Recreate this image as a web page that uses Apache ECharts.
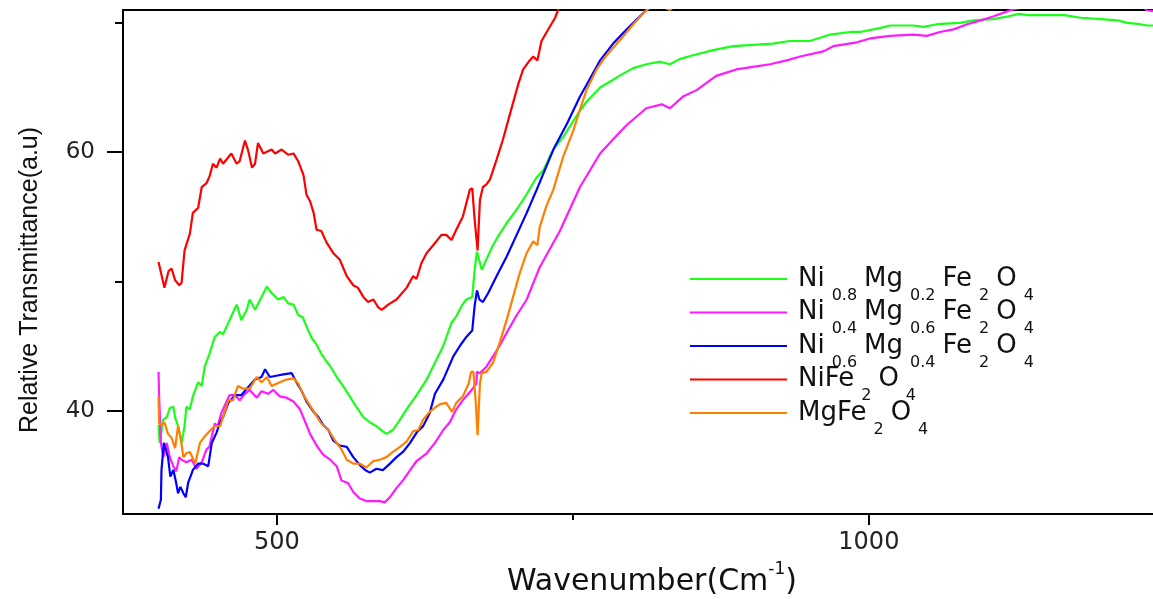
<!DOCTYPE html>
<html><head><meta charset="utf-8">
<script src="https://cdn.jsdelivr.net/npm/echarts@6/dist/echarts.min.js"></script>
<style>html,body{margin:0;padding:0;background:#fff}#c{width:1153px;height:599px}</style>
</head><body><div id="c"></div><script>
// Axis ranges and ticks
const xRange = [370, 1240];
const yRange = [32, 71];
const xMajorTicks = [500, 1000];
const xMinorTicks = [750];
const yMajorTicks = [40, 60];
const yMinorTicks = [50, 70];

const seriesNames = ['Ni0.8Mg0.2Fe2O4', 'Ni0.4Mg0.6Fe2O4', 'Ni0.6Mg0.4Fe2O4', 'NiFe2O4', 'MgFe2O4'];
const seriesColors = ['#1aff1a', '#ff1aff', '#0000ff', '#ff0000', '#ff8000'];
const legendRich = {
  'Ni0.8Mg0.2Fe2O4': '{f|Ni}{s|0.8}{m|Mg}{s|0.2}{m|Fe}{s|2}{m|O}{s|4}',
  'Ni0.4Mg0.6Fe2O4': '{f|Ni}{s|0.4}{m|Mg}{s|0.6}{m|Fe}{s|2}{m|O}{s|4}',
  'Ni0.6Mg0.4Fe2O4': '{f|Ni}{s|0.6}{m|Mg}{s|0.4}{m|Fe}{s|2}{m|O}{s|4}',
  'NiFe2O4': '{f|NiFe}{s|2}{m|O}{s|4}',
  'MgFe2O4': '{f|MgFe}{s|2}{m|O}{s|4}'
};

// [wavenumber, transmittance]
const ni08 = [[400,38.9],[401,37.5],[404,39.3],[407,39.5],[409.5,40.2],[412.5,40.3],[414,39.5],[416.5,38.8],[419.5,37.5],[422,38.8],[423.5,40.3],[426.5,40.1],[429,41.1],[433.5,42.2],[436.5,41.9],[439,43.4],[443,44.4],[447.5,45.7],[452,46.1],[454.5,45.9],[457.5,46.5],[461.5,47.3],[466,48.2],[470,47.0],[474.5,47.8],[477,48.6],[481.5,47.8],[487,48.8],[491.5,49.6],[495.5,49.1],[501,48.6],[505.5,48.8],[509.5,48.3],[514,48.2],[518,47.4],[522,47.2],[525,46.5],[529.5,45.6],[533.5,45.1],[537.5,44.4],[542,43.8],[546,43.3],[550.5,42.6],[556,41.9],[561.5,41.1],[567,40.3],[573,39.5],[578.5,39.1],[584,38.8],[589.5,38.4],[592.5,38.2],[598,38.5],[604,39.3],[609.5,40.1],[618,41.2],[626.5,42.4],[633.5,43.7],[640.5,45.0],[647.5,46.8],[651.5,47.3],[656,48.1],[660,48.6],[665,48.8],[667,50.9],[669,52.3],[673,50.9],[677,51.7],[682.5,52.8],[687,53.5],[694,54.5],[702,55.5],[708,56.3],[719,58.0],[725,58.6],[733.5,60.2],[742,61.2],[753,62.8],[761.5,63.9],[773,65.0],[784,65.6],[791,66.0],[801,66.5],[812,66.8],[823.5,67.0],[832,66.8],[840,67.2],[851.5,67.5],[868.5,67.9],[885.5,68.2],[902,68.3],[919,68.4],[933,68.6],[950,68.6],[967.5,69.1],[984,69.3],[992.5,69.3],[1009,69.6],[1018,69.8],[1037.5,69.8],[1046,69.7],[1057.5,69.9],[1077,70.0],[1088.5,70.2],[1105,70.3],[1117,70.5],[1127,70.7],[1134,70.6],[1151,70.6],[1165,70.6],[1179,70.4],[1196,70.3],[1210,70.2],[1218.5,70.0],[1229,69.9],[1235,69.8],[1240,69.8]];

const ni04 = [[400,43.0],[400.5,41.1],[402,37.5],[404,36.4],[407,37.5],[409.5,36.4],[412.5,35.7],[415,35.3],[417.5,36.4],[419.5,36.2],[423.5,36.0],[428,36.2],[432,35.5],[436.5,36.0],[440.5,37.0],[443,37.2],[447.5,39.0],[450,38.8],[453,39.8],[457.5,40.7],[460,41.2],[464.5,41.2],[468.5,40.8],[473,41.3],[477,41.6],[483,41.0],[487,41.5],[492.5,41.3],[497,41.6],[502.5,41.1],[508,41.0],[514,40.7],[519.5,40.1],[524,39.1],[528,38.2],[533.5,37.3],[539,36.6],[545,36.2],[550.5,35.7],[554.5,34.6],[560,34.4],[564.5,33.7],[570,33.2],[575.5,33.0],[581.5,33.0],[587,33.0],[591,32.9],[595.5,33.3],[601,34.0],[606.5,34.6],[612.5,35.4],[618,36.1],[626.5,36.7],[633.5,37.5],[640.5,38.5],[646,39.1],[651.5,40.1],[657,40.8],[664.5,41.6],[668.5,42.1],[669,43.0],[671.5,42.9],[677,43.4],[682.5,44.2],[688,45.0],[694,46.0],[702,47.3],[711,48.6],[722,51.1],[739,53.9],[756,57.3],[773,59.9],[784,61.0],[795.5,62.1],[812,63.4],[825,63.7],[832,63.4],[843,64.3],[854.5,64.8],[871,65.9],[888,66.4],[902,66.6],[916.5,66.8],[930.5,67.1],[942,67.4],[961.5,67.8],[970,68.2],[990,68.5],[1001,68.8],[1018,69.0],[1037.5,69.1],[1049,69.0],[1060,69.3],[1071.5,69.5],[1083,69.9],[1094.5,70.2],[1105,70.5],[1120,71.0],[1150,71.6],[1200,71.8],[1230,71.3],[1235,71.0],[1240,70.9]];

const ni06 = [[400,32.4],[402,33.1],[402.5,35.4],[404.5,37.5],[406,37.6],[408,36.4],[410,34.9],[412.5,35.4],[414.5,34.6],[416.5,33.6],[418.5,34.1],[421,33.6],[423,33.3],[425,34.4],[429,35.4],[433.5,35.9],[437.5,35.9],[442,35.7],[445,37.5],[449,38.3],[452,39.1],[454.5,39.5],[459,40.6],[464.5,41.2],[470,41.2],[474.5,41.7],[481.5,42.4],[487,42.6],[490,43.2],[494,42.6],[499.5,42.7],[505.5,42.8],[512.5,42.9],[516.5,42.2],[521,41.5],[525,40.7],[531,39.9],[535,39.5],[539,38.9],[543.5,38.5],[547.5,37.7],[553,37.3],[559,37.2],[564.5,36.4],[570,35.8],[574.5,35.4],[578.5,35.2],[584,35.5],[589.5,35.4],[595.5,35.9],[601,36.4],[606.5,36.8],[612.5,37.5],[618,38.3],[623.5,38.8],[629,39.8],[633.5,41.3],[640.5,42.4],[649,44.2],[654.5,45.0],[660,45.7],[665,46.2],[667,48.1],[669,49.3],[671,48.6],[674,48.4],[678.5,49.1],[685.5,50.4],[694,51.9],[702,53.5],[711,55.3],[719,57.0],[733.5,60.2],[745,62.2],[756,64.3],[761.5,65.2],[773,67.1],[784,68.4],[795.5,69.5],[806.5,70.5],[812,71.0],[816,71.4]];

const niFe = [[400,51.5],[405,49.5],[408.5,50.8],[411,51.0],[414,50.1],[417.5,49.7],[419.5,49.9],[422,52.4],[426.5,53.7],[429,55.3],[433.5,55.7],[436.5,57.3],[440.5,57.6],[443,58.1],[446,59.1],[449,58.8],[452,59.5],[454.5,59.1],[461.5,59.9],[466,59.1],[468.5,59.3],[473,60.9],[475.5,60.2],[479,58.8],[481.5,59.1],[484,60.7],[488.5,59.9],[495.5,60.2],[498.5,59.9],[504,60.2],[509.5,59.8],[514,59.9],[518,59.3],[522.5,58.2],[525,56.7],[528,56.2],[531,55.3],[533.5,54.0],[537.5,53.9],[542,53.0],[547.5,52.2],[553,51.7],[559,50.4],[564.5,49.7],[568.5,49.5],[573,48.8],[577,48.4],[581.5,48.6],[585.5,48.0],[588.5,47.8],[594,48.2],[601,48.6],[609.5,49.5],[615,50.4],[618,50.2],[622,51.4],[626.5,52.2],[632,52.8],[639,53.6],[643,53.6],[647.5,53.2],[651.5,54.0],[657,55.0],[663,57.1],[665,57.2],[667,54.8],[669.5,52.4],[671.5,56.3],[674,57.3],[677,57.5],[680,57.9],[685.5,59.4],[691,61.0],[697,63.0],[704,65.3],[708,66.4],[713.5,67.1],[716.5,67.4],[720,67.1],[723.5,68.6],[730.5,69.7],[735,70.4],[737.5,71.0],[741,71.6]];

const mgFe = [[400,41.1],[400.5,39.0],[402.5,38.9],[405,39.1],[408,38.2],[411,37.9],[414,37.1],[416.5,38.8],[418.5,38.0],[421,36.4],[423.5,36.7],[426.5,36.8],[431,35.9],[435,37.5],[439,38.0],[443,38.4],[447.5,38.8],[452,38.8],[454.5,39.5],[459,40.8],[463,40.8],[467,41.9],[471.5,41.7],[477,41.7],[483,42.6],[487,42.2],[491.5,42.6],[495.5,41.9],[502.5,42.2],[508,42.4],[514,42.5],[518,42.1],[522.5,41.2],[526.5,40.6],[532,39.8],[537.5,39.0],[543.5,38.5],[549,37.7],[554.5,37.0],[559,36.2],[564.5,35.9],[570,35.9],[575.5,35.6],[581.5,36.1],[587,36.2],[592.5,36.4],[598,36.8],[604,37.2],[609.5,37.6],[615,38.4],[619.5,38.5],[623.5,39.3],[629,39.9],[634.5,40.3],[638,40.5],[643,40.6],[648,39.9],[651.5,40.6],[657,41.1],[662,42.1],[664,43.0],[666,43.0],[668,40.6],[669.5,38.1],[671.5,42.1],[673,42.9],[677,43.0],[682.5,43.7],[688,45.2],[694,47.0],[699.5,48.8],[705,50.6],[711,52.2],[716.5,53.1],[720,52.8],[722,54.2],[727.5,55.8],[733.5,57.1],[742,59.7],[750.5,61.7],[756,63.3],[761.5,64.8],[770,66.4],[778.5,67.5],[790,68.7],[801,69.9],[811,70.9],[820,71.5],[832,71.0],[840,71.6]];

const seriesData = [ni08, ni04, ni06, niFe, mgFe];

const FONT = '"DejaVu Sans", sans-serif';
const chart = echarts.init(document.getElementById('c'), null, {renderer: 'canvas'});
chart.setOption({
  animation: false,
  backgroundColor: '#fff',
  grid: {left: 123, right: 0, top: 10, bottom: 85, containLabel: false, outerBoundsMode: 'none'},
  legend: {
    orient: 'vertical', left: 690, top: 266, padding: 0, itemGap: -4,
    itemWidth: 97, itemHeight: 2, icon: 'rect',
    data: seriesNames,
    formatter: name => legendRich[name],
    textStyle: {
      color: '#111',
      rich: {
        f: {fontFamily: FONT, fontSize: 26, color: '#111', padding: [0, 6, 0, 6]},
        m: {fontFamily: FONT, fontSize: 26, color: '#111', padding: [0, 6, 0, 0]},
        s: {fontFamily: FONT, fontSize: 16, color: '#111', verticalAlign: 'bottom', padding: [33, 7, 0, 1]}
      }
    }
  },
  xAxis: [
    {
      type: 'value', min: xRange[0], max: xRange[1], position: 'bottom',
      name: '{a|Wavenumber(Cm}{u|-1}{a|)}', nameLocation: 'middle', nameGap: 47,
      nameTextStyle: {
        padding: [0, 0, 0, 28],
        rich: {
          a: {fontFamily: FONT, fontSize: 30, color: '#111', padding: [6, 0, 0, 0]},
          u: {fontFamily: FONT, fontSize: 17, color: '#111', verticalAlign: 'top'}
        }
      },
      axisLine: {show: true, onZero: false, lineStyle: {color: '#000', width: 2}},
      axisTick: {show: true, length: 11, customValues: xMajorTicks, lineStyle: {color: '#000', width: 2}},
      axisLabel: {customValues: xMajorTicks, formatter: v => String(v), margin: 17, fontFamily: FONT, fontSize: 24, color: '#222'},
      splitLine: {show: false}
    },
    {
      type: 'value', min: xRange[0], max: xRange[1], position: 'bottom',
      axisLine: {show: false},
      axisTick: {show: true, length: 6, customValues: xMinorTicks, lineStyle: {color: '#000', width: 2}},
      axisLabel: {show: false}, splitLine: {show: false}
    },
    {
      type: 'value', min: xRange[0], max: xRange[1], position: 'top',
      axisLine: {show: true, onZero: false, lineStyle: {color: '#000', width: 2}},
      axisTick: {show: false}, axisLabel: {show: false}, splitLine: {show: false}
    }
  ],
  yAxis: [
    {
      type: 'value', min: yRange[0], max: yRange[1], position: 'left',
      name: 'Relative Transmittance(a.u)', nameLocation: 'middle', nameRotate: 90, nameGap: 80,
      nameTextStyle: {fontFamily: '"Liberation Sans", Arial, sans-serif', fontSize: 25, color: '#111', padding: [0, 36, 0, 0]},
      axisLine: {show: true, onZero: false, lineStyle: {color: '#000', width: 2}},
      axisTick: {show: true, length: 16, customValues: yMajorTicks, lineStyle: {color: '#000', width: 2}},
      axisLabel: {customValues: yMajorTicks, formatter: v => String(v), margin: 28, padding: [11, 0, 0, 0], fontFamily: FONT, fontSize: 23, color: '#222'},
      splitLine: {show: false}
    },
    {
      type: 'value', min: yRange[0], max: yRange[1], position: 'left',
      axisLine: {show: false},
      axisTick: {show: true, length: 8, customValues: yMinorTicks, lineStyle: {color: '#000', width: 2}},
      axisLabel: {show: false}, splitLine: {show: false}
    }
  ],
  series: seriesNames.map((n, i) => ({
    name: n, type: 'line', data: seriesData[i], xAxisIndex: 0, yAxisIndex: 0,
    showSymbol: false, symbol: 'none', smooth: false, clip: true,
    lineStyle: {color: seriesColors[i], width: 2.2}, itemStyle: {color: seriesColors[i]}
  }))
});
</script></body></html>
